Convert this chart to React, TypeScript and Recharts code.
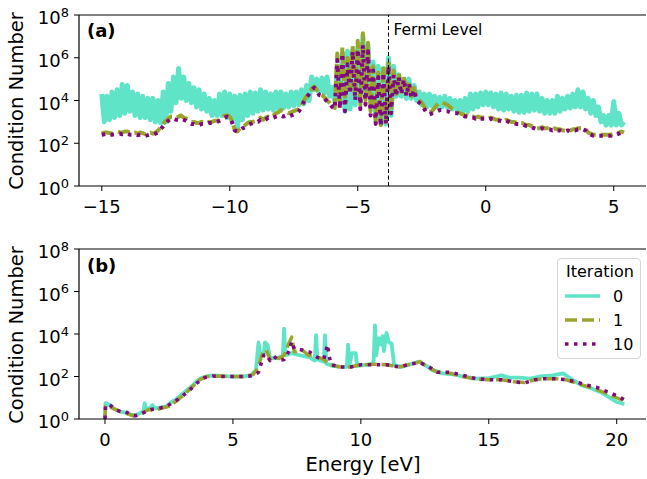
import React from 'react';
import { LineChart, Line, XAxis, YAxis, ReferenceLine } from 'recharts';

// values are stored as log10(condition number); panel (a) is sampled every 0.1 eV from -15.0
const aStart = -15.0;
const aStep = 0.1;

const aIter0 = [
  4.3, 3.0, 4.2, 3.1, 4.4, 3.2, 4.5, 3.3, 4.75, 3.4,
  4.7, 3.5, 4.4, 3.3, 4.3, 3.2, 4.2, 3.2, 4.1, 3.1,
  4.1, 3.0, 4.0, 2.95, 4.4, 3.0, 4.8, 3.5, 5.1, 3.9,
  5.5, 4.1, 5.1, 4.0, 4.8, 3.9, 4.6, 3.7, 4.5, 3.6,
  4.3, 3.5, 4.1, 3.3, 4.0, 3.3, 4.3, 3.3, 4.4, 3.2,
  4.3, 3.1, 4.2, 2.75, 4.25, 3.1, 4.3, 3.3, 4.4, 3.4,
  4.35, 3.5, 4.5, 3.55, 4.4, 3.6, 4.3, 3.55, 4.4, 3.6,
  4.4, 3.65, 4.3, 3.7, 4.4, 3.75, 4.4, 3.8, 4.5, 3.85,
  4.7, 4.0, 5.1, 4.5, 5.0, 4.4, 5.05, 4.35, 5.1, 4.2,
  4.6, 3.95, 5.5, 4.0, 6.2, 3.5, 6.3, 3.6, 6.0, 3.8,
  6.5, 4.3, 7.0, 4.2, 6.6, 4.0, 5.8, 3.2, 5.6, 2.9,
  5.5, 2.9, 6.0, 3.3, 5.6, 4.2, 5.2, 4.2, 5.0, 4.1,
  5.0, 4.1, 4.7, 4.0, 4.4, 3.8, 4.3, 3.7, 4.3, 3.75,
  4.2, 3.7, 4.15, 3.7, 4.2, 3.7, 4.1, 3.6, 4.0, 3.5,
  4.0, 3.45, 4.1, 3.5, 4.3, 3.6, 4.3, 3.7, 4.35, 3.8,
  4.4, 3.8, 4.35, 3.7, 4.3, 3.6, 4.35, 3.55, 4.3, 3.6,
  4.2, 3.5, 4.25, 3.45, 4.25, 3.45, 4.35, 3.5, 4.3, 3.55,
  4.3, 3.5, 4.1, 3.4, 4.0, 3.4, 4.0, 3.4, 4.2, 3.5,
  4.1, 3.6, 4.2, 3.65, 4.3, 3.7, 4.5, 3.7, 4.4, 3.6,
  4.1, 3.4, 4.0, 3.3, 3.7, 3.0, 3.3, 2.85, 3.3, 2.85,
  3.95, 2.85, 3.4, 2.85, 3.0,
];

const aIter1 = [
  2.45, 2.5, 2.5, 2.48, 2.45, 2.5, 2.55, 2.52, 2.5, 2.55,
  2.55, 2.5, 2.48, 2.5, 2.45, 2.5, 2.47, 2.42, 2.45, 2.5,
  2.45, 2.5, 2.6, 2.75, 2.9, 3.05, 3.15, 3.25, 3.25, 3.2,
  3.25, 3.3, 3.2, 3.15, 3.05, 3.0, 3.0, 2.95, 2.95, 3.0,
  2.95, 2.95, 3.0, 3.0, 3.05, 3.05, 3.1, 3.2, 3.3, 3.3,
  3.25, 3.0, 2.6, 2.55, 2.7, 2.75, 2.85, 2.95, 3.0, 3.0,
  3.05, 3.1, 3.2, 3.1, 3.2, 3.25, 3.2, 3.3, 3.4, 3.45,
  3.55, 3.5, 3.45, 3.4, 3.45, 3.5, 3.55, 3.6, 3.75, 4.0,
  4.2, 4.35, 4.55, 4.65, 4.5, 4.3, 4.25, 4.15, 4.0, 3.9,
  3.75, 3.65, 6.2, 3.8, 6.5, 4.0, 6.0, 4.5, 6.6, 4.2,
  6.8, 3.8, 7.15, 4.0, 6.7, 3.5, 5.6, 3.0, 5.3, 2.85,
  5.6, 3.0, 5.9, 3.5, 5.4, 4.3, 5.3, 4.4, 5.1, 4.3,
  4.9, 4.2, 4.6, 4.1, 4.0, 3.9, 3.7, 3.5, 3.45, 3.5,
  3.65, 3.8, 3.9, 3.9, 3.85, 3.8, 3.7, 3.6, 3.5, 3.45,
  3.4, 3.35, 3.3, 3.3, 3.25, 3.25, 3.2, 3.25, 3.2, 3.2,
  3.2, 3.15, 3.2, 3.15, 3.1, 3.1, 3.1, 3.05, 3.1, 3.05,
  3.0, 3.0, 2.95, 2.95, 2.95, 2.9, 2.85, 2.85, 2.8, 2.75,
  2.7, 2.7, 2.75, 2.7, 2.7, 2.7, 2.65, 2.7, 2.65, 2.65,
  2.6, 2.6, 2.65, 2.6, 2.65, 2.65, 2.7, 2.7, 2.7, 2.65,
  2.5, 2.45, 2.4, 2.4, 2.4, 2.4, 2.4, 2.4, 2.4, 2.4,
  2.45, 2.45, 2.5, 2.55, 2.5,
];

const aIter10 = [
  2.4, 2.42, 2.45, 2.4, 2.4, 2.42, 2.45, 2.45, 2.42, 2.45,
  2.45, 2.4, 2.4, 2.42, 2.38, 2.4, 2.4, 2.35, 2.38, 2.42,
  2.4, 2.45, 2.5, 2.65, 2.8, 2.95, 3.05, 3.15, 3.15, 3.1,
  3.1, 3.15, 3.1, 3.05, 2.95, 2.9, 2.9, 2.85, 2.85, 2.9,
  2.9, 2.9, 2.95, 2.95, 3.0, 3.0, 3.05, 3.1, 3.2, 3.25,
  3.2, 2.95, 2.6, 2.55, 2.6, 2.7, 2.75, 2.85, 2.9, 2.95,
  3.0, 3.0, 3.1, 3.05, 3.1, 3.2, 3.15, 3.2, 3.25, 3.3,
  3.3, 3.25, 3.3, 3.25, 3.3, 3.35, 3.4, 3.5, 3.7, 3.95,
  4.15, 4.3, 4.5, 4.6, 4.45, 4.25, 4.2, 4.1, 3.95, 3.85,
  3.7, 3.6, 5.9, 3.6, 6.2, 3.5, 5.7, 4.3, 6.3, 4.0,
  6.4, 3.6, 6.6, 3.8, 6.3, 3.3, 5.4, 2.9, 5.1, 2.8,
  5.3, 2.9, 5.6, 3.4, 5.2, 4.2, 5.1, 4.3, 5.0, 4.2,
  4.8, 4.1, 4.5, 4.0, 3.9, 3.8, 3.6, 3.4, 3.35, 3.4,
  3.45, 3.5, 3.55, 3.55, 3.5, 3.5, 3.45, 3.45, 3.4, 3.4,
  3.35, 3.3, 3.25, 3.25, 3.2, 3.2, 3.15, 3.2, 3.15, 3.15,
  3.15, 3.1, 3.15, 3.1, 3.05, 3.05, 3.05, 3.0, 3.05, 3.0,
  2.95, 2.95, 2.9, 2.9, 2.9, 2.85, 2.8, 2.8, 2.75, 2.7,
  2.65, 2.65, 2.7, 2.65, 2.65, 2.65, 2.6, 2.65, 2.6, 2.6,
  2.55, 2.55, 2.6, 2.55, 2.6, 2.6, 2.65, 2.65, 2.65, 2.6,
  2.45, 2.4, 2.35, 2.35, 2.35, 2.35, 2.35, 2.35, 2.35, 2.35,
  2.4, 2.4, 2.45, 2.5, 2.45,
];

// panel (b): energies [eV] and log10 values per iteration
const bEnergy0 = [
  0, 0.02, 0.2, 0.4, 0.6, 0.8, 1.0, 1.2, 1.4, 1.5, 1.55, 1.62, 1.8, 1.85, 1.95, 2.2, 2.4, 2.6, 2.8, 3.0,
  3.2, 3.4, 3.6, 3.8, 4.0, 4.3, 4.6, 5.0, 5.4, 5.7, 5.9, 6.0, 6.08, 6.2, 6.25, 6.35, 6.45, 6.6, 6.8, 6.95,
  7.0, 7.05, 7.3, 7.6, 8.0, 8.2, 8.25, 8.3, 8.55, 8.6, 8.65, 8.9, 9.2, 9.45, 9.5, 9.55, 9.65, 9.8, 9.85, 10.2,
  10.45, 10.5, 10.55, 10.6, 10.7, 10.8, 10.85, 10.9, 11.0, 11.1, 11.2, 11.3, 11.6, 12.0, 12.3, 12.5, 12.8, 13.2, 13.6, 14.0,
  14.5, 15.0, 15.5, 15.8, 16.2, 16.6, 17.0, 17.5, 17.9, 18.2, 18.6, 19.0, 19.4, 19.8, 20.0, 20.3,
];
const bIter0 = [
  0.1, 0.75, 0.65, 0.45, 0.35, 0.3, 0.2, 0.18, 0.3, 0.35, 0.75, 0.45, 0.55, 0.65, 0.5, 0.55, 0.6, 0.8, 0.95, 1.15,
  1.35, 1.55, 1.8, 1.95, 2.02, 2.05, 2.02, 2.0, 2.0, 2.05, 2.3, 3.6, 3.0, 3.0, 3.6, 3.5, 2.9, 2.85, 2.9, 3.0,
  4.25, 3.0, 3.1, 3.0, 2.9, 2.75, 3.95, 2.8, 2.7, 3.95, 2.6, 2.5, 2.45, 2.45, 3.5, 2.5, 3.1, 3.1, 2.5, 2.55,
  2.6, 2.75, 4.4, 3.0, 3.8, 3.5, 3.9, 3.2, 4.05, 3.6, 3.55, 2.55, 2.45, 2.6, 2.7, 2.55, 2.3, 2.15, 2.1, 2.0,
  1.9, 1.92, 2.05, 1.95, 1.95, 1.9, 2.0, 2.05, 2.15, 1.9, 1.6, 1.45, 1.25, 0.95, 0.8, 0.7,
];

const bEnergy1 = [
  0, 0.02, 0.1, 0.3, 0.5, 0.7, 0.9, 1.1, 1.3, 1.5, 1.7, 1.9, 2.2, 2.5, 2.8, 3.1, 3.4, 3.7, 4.0, 4.5,
  5.0, 5.5, 5.8, 6.0, 6.1, 6.2, 6.3, 6.45, 6.6, 6.8, 7.0, 7.2, 7.3, 7.4, 7.7, 7.95, 8.3, 8.5, 8.8, 9.2,
  9.6, 10.0, 10.5, 11.0, 11.5, 12.0, 12.3, 12.6, 13.0, 13.5, 14.0, 14.5, 15.0, 15.5, 16.0, 16.4, 16.8, 17.2, 17.6, 18.0,
  18.4, 18.8, 19.2, 19.6, 20.0, 20.3,
];
const bIter1 = [
  0.05, 0.6, 0.65, 0.5, 0.4, 0.3, 0.25, 0.15, 0.2, 0.3, 0.45, 0.4, 0.5, 0.6, 0.85, 1.15, 1.5, 1.85, 2.0, 2.02,
  2.0, 2.0, 2.1, 2.45, 2.9, 3.2, 3.25, 2.8, 2.9, 2.85, 3.0, 3.6, 3.85, 3.15, 3.25, 3.0, 2.9, 2.85, 2.55, 2.45,
  2.45, 2.55, 2.58, 2.55, 2.45, 2.6, 2.7, 2.45, 2.2, 2.15, 2.0, 1.88, 1.85, 1.85, 1.75, 1.72, 1.85, 1.9, 1.9, 1.85,
  1.7, 1.55, 1.4, 1.2, 1.0, 0.85,
];

const bEnergy10 = [
  0, 0.02, 0.15, 0.4, 0.6, 0.8, 1.0, 1.2, 1.4, 1.6, 1.8, 2.1, 2.4, 2.7, 3.0, 3.3, 3.6, 3.9, 4.2, 4.6,
  5.0, 5.5, 5.8, 6.0, 6.1, 6.2, 6.3, 6.45, 6.6, 6.8, 7.0, 7.2, 7.3, 7.4, 7.7, 8.0, 8.3, 8.55, 8.7, 8.75,
  8.85, 9.2, 9.6, 10.0, 10.5, 11.0, 11.5, 12.0, 12.3, 12.6, 13.0, 13.5, 14.0, 14.5, 15.0, 15.5, 16.0, 16.4, 16.8, 17.2,
  17.6, 18.0, 18.4, 18.8, 19.2, 19.6, 20.0, 20.3,
];
const bIter10 = [
  0.0, 0.6, 0.7, 0.45, 0.35, 0.35, 0.2, 0.15, 0.25, 0.35, 0.45, 0.5, 0.6, 0.8, 1.05, 1.35, 1.7, 1.95, 2.02, 2.0,
  2.0, 2.0, 2.05, 2.2, 2.6, 3.0, 3.05, 2.75, 2.95, 2.75, 2.8, 3.2, 3.65, 3.3, 3.25, 3.15, 2.9, 2.8, 3.5, 3.0,
  2.55, 2.45, 2.45, 2.55, 2.55, 2.55, 2.45, 2.6, 2.65, 2.5, 2.2, 2.2, 2.05, 1.9, 1.85, 1.85, 1.75, 1.7, 1.85, 1.9,
  1.9, 1.85, 1.75, 1.6, 1.5, 1.3, 1.1, 0.9,
];

const iterations = ['0', '1', '10'];
const yTicks = [1, 1e2, 1e4, 1e6, 1e8];
const aTicks = [-15, -10, -5, 0, 5];
const bTicks = [0, 5, 10, 15, 20];
const fermiLevel = -3.8;

const COLORS = ['#5fe4c8', '#9ba52c', '#82087f'];
const DASHES = [undefined, '12 5', '3.5 5.5'];
const FONT = '"DejaVu Sans", sans-serif';

const fromGrid = (lg: number[]) =>
  lg.map((v, i) => ({ e: +(aStart + i * aStep).toFixed(2), v: Math.pow(10, v) }));
const fromPairs = (es: number[], lg: number[]) =>
  es.map((e, i) => ({ e, v: Math.pow(10, lg[i]) }));

const panelA = [fromGrid(aIter0), fromGrid(aIter1), fromGrid(aIter10)];
const panelB = [
  fromPairs(bEnergy0, bIter0),
  fromPairs(bEnergy1, bIter1),
  fromPairs(bEnergy10, bIter10),
];

const PowTick = ({ x, y, payload }: any) => {
  const n = Math.round(Math.log10(payload.value));
  return (
    <text x={x} y={y + 9} textAnchor="end" fill="#000" fontFamily={FONT} fontSize={18}>
      <tspan>10</tspan>
      <tspan dy={-7.5} fontSize={13}>{n}</tspan>
    </text>
  );
};

const fmtX = (v: number) => (v < 0 ? '\u2212' + Math.abs(v) : String(v));

const FermiLabel = ({ viewBox }: any) => (
  <text x={viewBox.x + 5} y={35} fontFamily={FONT} fontSize={15.5} fill="#000">
    Fermi Level
  </text>
);

const Panel = ({ data, domain, ticks, fermi, widths }: any) => (
  <LineChart
    width={647}
    height={fermi ? 240 : 245}
    margin={{ top: 15, right: 1, left: 9, bottom: fermi ? 24 : 30 }}
  >
    <XAxis
      type="number"
      dataKey="e"
      domain={domain}
      ticks={ticks}
      allowDataOverflow
      height={30}
      tickSize={5}
      tickMargin={9}
      tickFormatter={fmtX}
      tick={{ fill: '#000', fontSize: 18, fontFamily: FONT }}
      axisLine={{ stroke: '#000', strokeWidth: 1.2 }}
      tickLine={{ stroke: '#000', strokeWidth: 1 }}
    />
    <YAxis
      type="number"
      scale="log"
      domain={[1, 1e8]}
      ticks={yTicks}
      allowDataOverflow
      width={70}
      tickSize={5}
      tickMargin={5}
      tick={<PowTick />}
      axisLine={{ stroke: '#000', strokeWidth: 1.2 }}
      tickLine={{ stroke: '#000', strokeWidth: 1 }}
    />
    <ReferenceLine y={1e8} stroke="#000" strokeWidth={1.2} />
    {data.map((d: any, i: number) => (
      <Line
        key={iterations[i]}
        data={d}
        dataKey="v"
        type="linear"
        stroke={COLORS[i]}
        strokeWidth={widths[i]}
        strokeDasharray={DASHES[i]}
        strokeLinejoin="round"
        dot={false}
        activeDot={false}
        isAnimationActive={false}
      />
    ))}
    {fermi && (
      <ReferenceLine
        x={fermiLevel}
        stroke="#000"
        strokeWidth={1}
        strokeDasharray="4 2.5"
        label={<FermiLabel />}
      />
    )}
  </LineChart>
);

const text = (extra: React.CSSProperties): React.CSSProperties => ({
  position: 'absolute',
  fontFamily: FONT,
  color: '#000',
  whiteSpace: 'nowrap',
  lineHeight: 1,
  ...extra,
});

export default function App() {
  return (
    <div style={{ position: 'absolute', left: 0, top: 0, width: 647, height: 479, background: '#fff' }}>
      <div style={{ position: 'absolute', left: 0, top: 0 }}>
        <Panel data={panelA} domain={[-15.89, 6.26]} ticks={aTicks} fermi widths={[5, 4, 4]} />
      </div>
      <div style={{ position: 'absolute', left: 0, top: 234 }}>
        <Panel
          data={panelB}
          domain={[-1.016, 21.145]}
          ticks={bTicks}
          fermi={false}
          widths={[3.8, 3.5, 3.5]}
        />
      </div>

      <div style={text({ left: 87, top: 22, fontSize: 18, fontWeight: 'bold' })}>(a)</div>
      <div style={text({ left: 87, top: 257, fontSize: 18, fontWeight: 'bold' })}>(b)</div>

      {[101, 335].map((cy) => (
        <div
          key={cy}
          style={text({
            left: 17,
            top: cy,
            fontSize: 19.5,
            transform: 'translate(-50%, -50%) rotate(-90deg)',
          })}
        >
          Condition Number
        </div>
      ))}
      <div style={text({ left: 363, top: 455, fontSize: 19.5, transform: 'translateX(-50%)' })}>
        Energy [eV]
      </div>

      <div
        style={{
          position: 'absolute',
          left: 557,
          top: 258,
          width: 84,
          height: 101,
          boxSizing: 'border-box',
          border: '1px solid #d6d6d6',
          borderRadius: 4,
          background: 'rgba(255,255,255,0.8)',
        }}
      >
        <div style={text({ left: 8, top: 5, fontSize: 16 })}>Iteration</div>
        {iterations.map((name, i) => (
          <div key={name}>
            <svg style={{ position: 'absolute', left: 7, top: 33 + i * 24, width: 36, height: 8 }}>
              <line
                x1={0}
                y1={4}
                x2={35}
                y2={4}
                stroke={COLORS[i]}
                strokeWidth={3.5}
                strokeDasharray={DASHES[i]}
              />
            </svg>
            <div style={text({ left: 55, top: 30 + i * 24, fontSize: 16 })}>{name}</div>
          </div>
        ))}
      </div>
    </div>
  );
}
